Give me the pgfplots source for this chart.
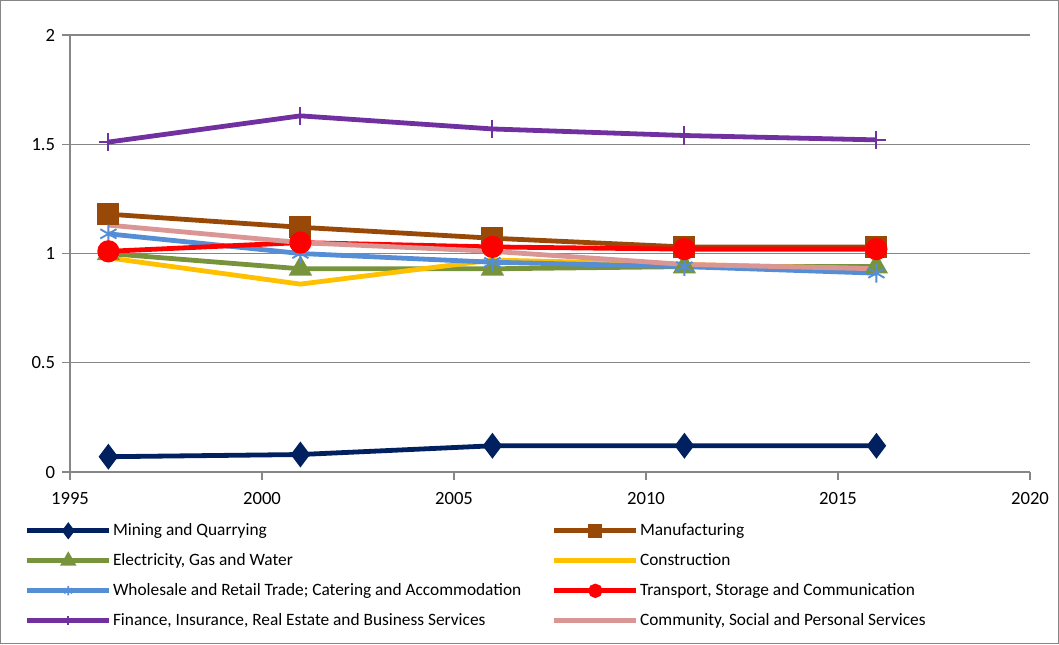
\documentclass[border=0pt]{standalone}
\usepackage{fontspec}
\setmainfont{Carlito}
\usepackage{pgfplots}
\pgfplotsset{compat=1.18}
\definecolor{cMin}{RGB}{0,32,96}
\definecolor{cMan}{RGB}{152,72,7}
\definecolor{cEle}{RGB}{119,147,60}
\definecolor{cCon}{RGB}{255,192,0}
\definecolor{cWho}{RGB}{85,142,213}
\definecolor{cTra}{RGB}{255,0,0}
\definecolor{cFin}{RGB}{112,48,160}
\definecolor{cCom}{RGB}{217,150,148}
\definecolor{cAx}{RGB}{134,134,134}
\begin{document}
\begin{tikzpicture}
\begin{axis}[
  scale only axis,
  width=720pt, height=327.75pt,
  xmin=1995, xmax=2020, ymin=0, ymax=2,
  xtick={1995,2000,...,2020},
  ytick={0,0.5,1,1.5,2},
  axis x line=bottom, axis y line=left,
  axis line style={-, draw=cAx, line width=0.8pt},
  ymajorgrids, grid style={cAx, line width=0.8pt},
  tick align=outside, major tick length=6pt,
  tick style={cAx, line width=0.8pt},
  font=\fontsize{13}{15}\selectfont,
  ticklabel style={font=\fontsize{14}{16}\selectfont},
  xticklabel style={yshift=-4pt},
  /pgf/number format/assume math mode=true,
  /pgf/number format/1000 sep={},
  line width=3.6pt,
  legend columns=2,
  legend cell align=left,
  legend style={draw=none, fill=none, anchor=north west,
    at={(-0.0495,-0.11)}, inner sep=0pt,
    nodes={inner sep=0pt, text height=9.5pt, text depth=3pt, font=\fontsize{13}{15}\selectfont},
    row sep=10pt,
    /tikz/column 1/.style={column sep=1pt},
    /tikz/column 2/.style={column sep=23pt},
    /tikz/column 3/.style={column sep=1pt}},
  legend image code/.code={\draw[mark repeat=2,mark phase=2,mark size=3.5pt] plot coordinates {(0pt,0pt)(30.75pt,0pt)(61.5pt,0pt)};},
]
\addplot[cMin, mark=diamond*, mark size=6.75pt, mark options={solid}] coordinates {(1996,0.07)(2001,0.08)(2006,0.12)(2011,0.12)(2016,0.12)};
\addlegendentry{Mining and Quarrying}
\addplot[cMan, mark=square*, mark size=6.5pt] coordinates {(1996,1.18)(2001,1.12)(2006,1.07)(2011,1.03)(2016,1.03)};
\addlegendentry{Manufacturing}
\addplot[cEle, mark=triangle*, mark size=6.5pt] coordinates {(1996,1.00)(2001,0.93)(2006,0.93)(2011,0.94)(2016,0.94)};
\addlegendentry{Electricity, Gas and Water}
\addplot[cCon] coordinates {(1996,0.98)(2001,0.86)(2006,0.97)(2011,0.95)(2016,0.93)};
\addlegendentry{Construction}
\addplot[cWho, mark=asterisk, mark size=7pt, mark options={line width=1.4pt}] coordinates {(1996,1.09)(2001,1.00)(2006,0.96)(2011,0.94)(2016,0.91)};
\addlegendentry{Wholesale and Retail Trade; Catering and Accommodation}
\addplot[cTra, mark=*, mark size=6.5pt] coordinates {(1996,1.01)(2001,1.05)(2006,1.03)(2011,1.02)(2016,1.02)};
\addlegendentry{Transport, Storage and Communication}
\addplot[cFin, mark=+, mark size=7pt, mark options={line width=1.4pt}] coordinates {(1996,1.51)(2001,1.63)(2006,1.57)(2011,1.54)(2016,1.52)};
\addlegendentry{Finance, Insurance, Real Estate and Business Services}
\addplot[cCom] coordinates {(1996,1.13)(2001,1.05)(2006,1.01)(2011,0.95)(2016,0.93)};
\addlegendentry{Community, Social and Personal Services}
\end{axis}
\draw[cAx, line width=0.8pt] (-52pt,-128.5pt) rectangle (741.25pt,353.5pt);
\path[use as bounding box] (-52.5pt,-129pt) rectangle (741.75pt,354pt);
\end{tikzpicture}
\end{document}
